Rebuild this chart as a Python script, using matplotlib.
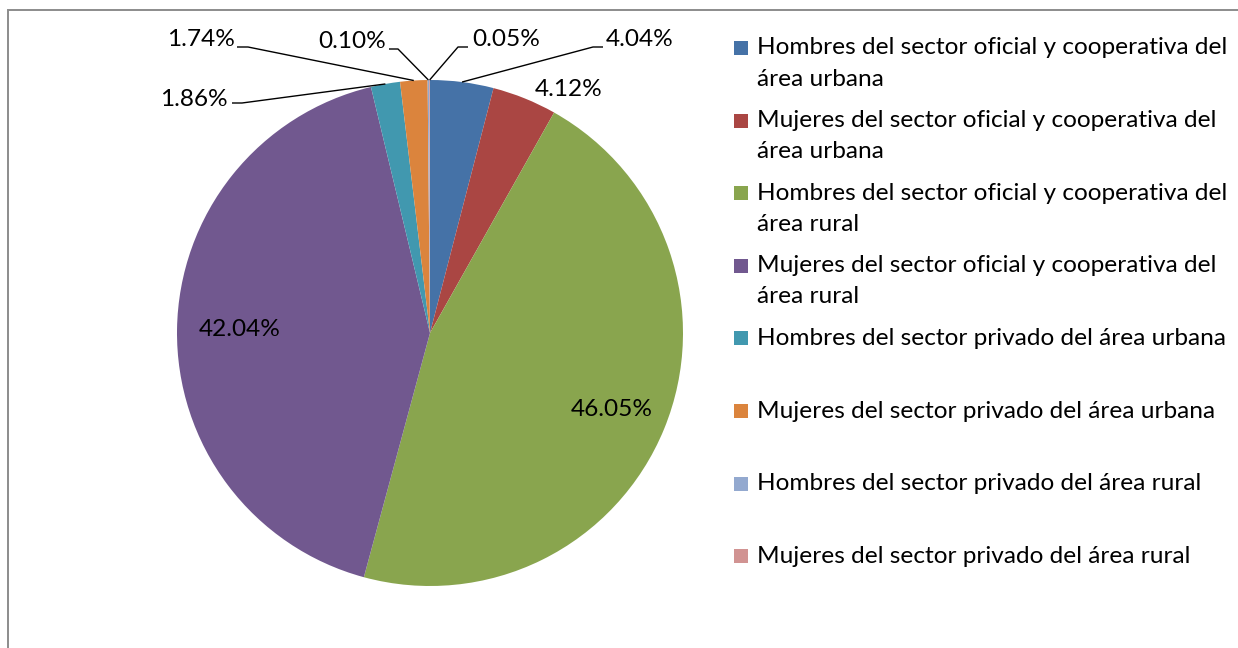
import numpy as np
import matplotlib
matplotlib.use("Agg")
import matplotlib.pyplot as plt
from matplotlib.patches import Rectangle

# ---------------- data ----------------
categories = [
    "Hombres del sector oficial y cooperativa del\nárea urbana",
    "Mujeres del sector oficial y cooperativa del\nárea urbana",
    "Hombres del sector oficial y cooperativa del\nárea rural",
    "Mujeres del sector oficial y cooperativa del\nárea rural",
    "Hombres del sector privado del área urbana",
    "Mujeres del sector privado del área urbana",
    "Hombres del sector privado del área rural",
    "Mujeres del sector privado del área rural",
]
values = [4.04, 4.12, 46.05, 42.04, 1.86, 1.74, 0.10, 0.05]
colors = ["#4572A7", "#AA4643", "#89A54E", "#71588F",
          "#4198AF", "#DB843D", "#93A9CF", "#D19392"]

# ---------------- layout ----------------
W, H = 1238, 648
FONT = "Lato"
FS = 17.6

fig = plt.figure(figsize=(W / 100, H / 100), dpi=100)
ax = fig.add_axes([0, 0, 1, 1])


def Y(y):
    return H - y


cx, cy, R = 430, 333, 253
wedges, _ = ax.pie(values, colors=colors, startangle=90, counterclock=False,
                   center=(cx, Y(cy)), radius=R,
                   wedgeprops=dict(linewidth=0))
ax.set_xlim(0, W)
ax.set_ylim(0, H)
ax.set_aspect("equal")
ax.axis("off")

# outer chart frame
ax.add_patch(Rectangle((8, Y(H + 20)), W + 20, (H + 20) - 10, fill=False,
                       edgecolor="#8c8c8c", linewidth=1.4, zorder=0))


def edge_point(i, frac=1.0):
    w = wedges[i]
    th = np.deg2rad((w.theta1 + w.theta2) / 2)
    return cx + frac * R * np.cos(th), Y(cy) + frac * R * np.sin(th)


# label placement: (index, text x, text y, ha, elbow x, line y, label-side end x)
outside = [
    (0, 606, 40, "left", 593, 47, 603),
    (7, 472, 40, "left", 458, 47, 468),
    (6, 386, 42, "right", 398, 49, 389),
    (5, 235, 40, "right", 248, 47, 237),
    (4, 228, 100, "right", 242, 103, 232),
]
for i, tx, ty, ha, ex, ly, sx in outside:
    px, py = edge_point(i)
    ax.plot([px, ex, sx], [py, Y(ly), Y(ly)], color="black", lw=1.0,
            solid_capstyle="butt")
    ax.text(tx, Y(ty), f"{values[i]:.2f}%", ha=ha, va="center",
            fontsize=FS, family=FONT)

# 4.12% label just outside the slice
ax.text(569, Y(89), f"{values[1]:.2f}%", ha="center", va="center",
        fontsize=FS, family=FONT)
# inside labels
ax.text(612, Y(410), f"{values[2]:.2f}%", ha="center", va="center",
        fontsize=FS, family=FONT)
ax.text(240, Y(330), f"{values[3]:.2f}%", ha="center", va="center",
        fontsize=FS, family=FONT)

# ---------------- legend ----------------
lx_box, lx_txt = 734, 757
y0, step = 48, 72.6
line_gap = 31
for k, (lab, col) in enumerate(zip(categories, colors)):
    yc = y0 + k * step
    ax.add_patch(Rectangle((lx_box, Y(yc + 7)), 14, 14, facecolor=col,
                           edgecolor="none"))
    for j, part in enumerate(lab.split("\n")):
        ax.text(lx_txt, Y(yc + j * line_gap), part, ha="left", va="center",
                fontsize=FS, family=FONT)

fig.savefig("out.png", dpi=100)
